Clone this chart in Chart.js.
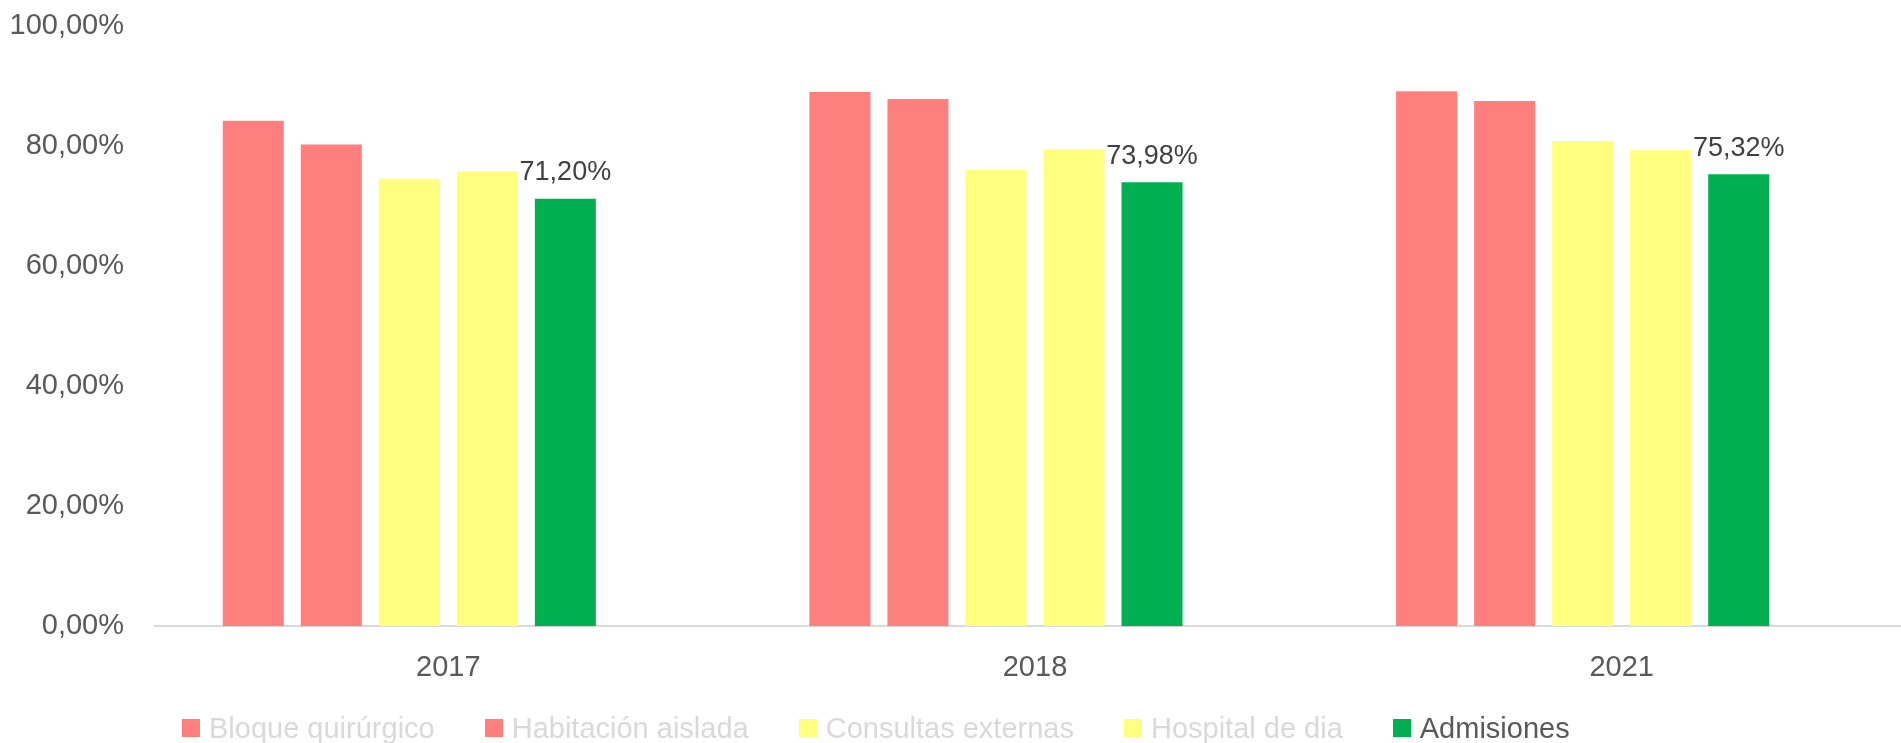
<!DOCTYPE html>
<html>
<head>
<meta charset="utf-8">
<script src="https://cdn.jsdelivr.net/npm/chart.js@4.4.1/dist/chart.umd.min.js"></script>
<style>
  html, body { margin: 0; padding: 0; background: #fff; overflow: hidden; }
  #wrap { position: relative; width: 1915px; height: 743px; }
  #legend {
    position: absolute; left: 182px; top: 708px; height: 40px;
    display: flex; align-items: center; gap: 50px;
    font-family: "Liberation Sans", Arial, sans-serif; font-size: 29px;
    white-space: nowrap;
  }
  .item { display: flex; align-items: center; }
  .box { width: 18px; height: 18px; margin-right: 9px; }
</style>
</head>
<body>
<div id="wrap">
  <canvas id="occupancyChart"></canvas>
  <div id="legend"></div>
</div>
<script>
// Categories and series (in %)
const years = ['2017', '2018', '2021'];
const seriesNames = ['Bloque quirúrgico', 'Habitación aislada', 'Consultas externas', 'Hospital de dia', 'Admisiones'];
const bloque = [84.21, 89.01, 89.12];
const habitacion = [80.24, 87.84, 87.50];
const consultas = [74.55, 76.00, 80.86];
const hospitalDia = [75.78, 79.46, 79.29];
const admisiones = [71.20, 73.98, 75.32];
// empty sixth series kept in the source chart, it only takes a slot
const emptySeries = [null, null, null];

const seriesColors = ['#FF7F7F', '#FF7F7F', '#FFFF7F', '#FFFF7F', '#00B050'];
const legendTextColors = ['#D9D9D9', '#D9D9D9', '#D9D9D9', '#D9D9D9', '#595959'];

function pct(v) {
  return v.toFixed(2).replace('.', ',') + '%';
}

// Data labels on the Admisiones bars
const admisionesLabels = {
  id: 'admisionesLabels',
  afterDatasetsDraw(chart) {
    const ctx = chart.ctx;
    const meta = chart.getDatasetMeta(4);
    ctx.save();
    ctx.font = '27px "Liberation Sans", Arial, sans-serif';
    ctx.fillStyle = '#404040';
    ctx.textAlign = 'center';
    ctx.textBaseline = 'middle';
    meta.data.forEach((bar, i) => {
      ctx.fillText(pct(admisiones[i]), bar.x, bar.y - 26);
    });
    ctx.restore();
  }
};

const allSeries = [bloque, habitacion, consultas, hospitalDia, admisiones];
const datasets = allSeries.map((values, i) => ({
  label: seriesNames[i],
  data: values,
  backgroundColor: seriesColors[i],
  borderWidth: 0
}));
datasets.push({ label: '', data: emptySeries, backgroundColor: 'transparent' });

const ctx = document.getElementById('occupancyChart').getContext('2d');
const occupancyChart = new Chart(ctx, {
  type: 'bar',
  data: {
    labels: years,
    datasets: datasets
  },
  options: {
    responsive: true,
    maintainAspectRatio: false,
    animation: false,
    categoryPercentage: 0.798,
    barPercentage: 0.782,
    layout: {
      padding: { top: 26, right: 0, bottom: 34, left: 0 }
    },
    plugins: {
      legend: { display: false },
      tooltip: { enabled: false }
    },
    scales: {
      y: {
        min: 0,
        max: 100,
        ticks: {
          stepSize: 20,
          padding: 31,
          color: '#595959',
          font: { family: '"Liberation Sans", Arial, sans-serif', size: 29 },
          callback: v => pct(v)
        },
        grid: { display: false, drawTicks: false },
        border: { display: false },
        afterFit: scale => {
          scale.width = 155;
          scale.paddingTop = 0;
          scale.paddingBottom = 0;
        }
      },
      x: {
        ticks: {
          padding: 24,
          color: '#595959',
          font: { family: '"Liberation Sans", Arial, sans-serif', size: 29 }
        },
        grid: { display: false, drawTicks: false },
        border: { display: true, color: '#D9D9D9', width: 2 }
      }
    }
  },
  plugins: [admisionesLabels]
});

// Legend
const legend = document.getElementById('legend');
seriesNames.forEach((name, i) => {
  const item = document.createElement('div');
  item.className = 'item';
  const box = document.createElement('span');
  box.className = 'box';
  box.style.background = seriesColors[i];
  const text = document.createElement('span');
  text.textContent = name;
  text.style.color = legendTextColors[i];
  item.appendChild(box);
  item.appendChild(text);
  legend.appendChild(item);
});
</script>
</body>
</html>
